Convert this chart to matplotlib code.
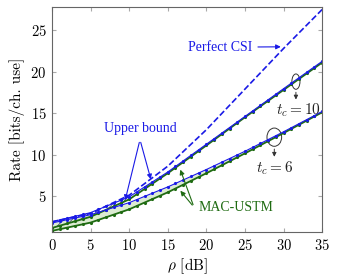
import matplotlib
matplotlib.use('Agg')
import matplotlib.pyplot as plt
from matplotlib.patches import Ellipse
import numpy as np

plt.rcParams['mathtext.fontset'] = 'cm'
plt.rcParams['font.family'] = ['cmr10', 'DejaVu Serif']
plt.rcParams['axes.formatter.use_mathtext'] = True
plt.rcParams['hatch.linewidth'] = 0.5

# SNR grid (dB)
rho = [0, 5, 10, 15, 20, 25, 30, 35]
perfect_csi = [1.9, 2.9, 5.1, 8.6, 13.0, 17.9, 22.8, 27.5]
ub_tc10 = [1.9, 3.0, 4.9, 7.9, 11.25, 14.6, 17.95, 21.25]
mac_tc10 = [1.15, 2.5, 4.6, 7.75, 11.1, 14.5, 17.8, 21.1]
ub_tc6 = [1.75, 2.75, 4.2, 6.1, 8.2, 10.4, 12.75, 15.2]
mac_tc6 = [0.8, 1.8, 3.4, 5.45, 7.75, 10.15, 12.6, 15.1]

blue = '#1a1ae6'
green = '#1f6b12'

x = np.arange(0, 36, 1)
def interp(v):
    return np.interp(x, rho, v)

fig = plt.figure(figsize=(3.42, 2.80), dpi=100)
ax = fig.add_axes([0.152, 0.171, 0.79, 0.804])

ax.fill_between(x, interp(ub_tc6), interp(mac_tc6), color='#dcebd2', lw=0)
ax.fill_between(x, interp(ub_tc10), interp(mac_tc10), facecolor='none',
                edgecolor='#333366', hatch='////', lw=0)

ax.plot(x, interp(perfect_csi), '--', color=blue, lw=1.2)
ax.plot(x, interp(mac_tc10), '-', color=green, lw=1.3, marker='.', ms=2.5)
ax.plot(x, interp(ub_tc10), '-', color=blue, lw=0.8, marker='.', ms=2.5)
ax.plot(x, interp(mac_tc6), '-', color=green, lw=1.3, marker='.', ms=2.5)
ax.plot(x, interp(ub_tc6), '-', color=blue, lw=0.8, marker='.', ms=2.5)

txt = dict(family=['Liberation Serif'], fontsize=10)
ax.annotate('Perfect CSI', xy=(30, 23.0), xytext=(21.8, 22.95), color=blue,
            ha='center', va='center', **txt,
            arrowprops=dict(arrowstyle='-|>', color=blue, lw=0.8, mutation_scale=7))
ax.text(11.4, 13.2, 'Upper bound', color=blue, ha='center', va='center', **txt)
for tip in [(12.9, 6.7), (9.4, 4.2)]:
    ax.annotate('', xy=tip, xytext=(11.4, 11.8),
                arrowprops=dict(arrowstyle='-|>', color=blue, lw=0.8, mutation_scale=7))
ax.text(19.0, 3.65, 'MAC-USTM', color=green, ha='left', va='center', **txt)
for tip in [(16.5, 8.5), (16.4, 5.9)]:
    ax.annotate('', xy=tip, xytext=(18.4, 3.65),
                arrowprops=dict(arrowstyle='-|>', color=green, lw=0.8, mutation_scale=7))

ax.add_patch(Ellipse((31.6, 18.8), 1.05, 1.85, fill=False, ec='#333333', lw=0.7))
ax.annotate('', xy=(31.6, 16.3), xytext=(31.6, 17.85),
            arrowprops=dict(arrowstyle='-|>', color='#333333', lw=0.7, mutation_scale=6))
ax.text(32.0, 15.4, r'$t_c = 10$', ha='center', va='center', fontsize=11, color='#222222')
ax.add_patch(Ellipse((28.8, 12.1), 1.9, 2.2, fill=False, ec='#333333', lw=0.7))
ax.annotate('', xy=(28.8, 9.4), xytext=(28.8, 11.0),
            arrowprops=dict(arrowstyle='-|>', color='#333333', lw=0.7, mutation_scale=6))
ax.text(28.8, 8.4, r'$t_c = 6$', ha='center', va='center', fontsize=11, color='#222222')

ax.set_xlim(0, 35)
ax.set_ylim(0.65, 27.8)
ax.set_xticks([0, 5, 10, 15, 20, 25, 30, 35])
ax.set_yticks([5, 10, 15, 20, 25])
ax.tick_params(direction='in', length=3, color='#aaaaaa', labelsize=10.5, pad=4,
               top=True, right=True)
for s in ax.spines.values():
    s.set_color('#666666')
    s.set_linewidth(0.8)
ax.set_xlabel(r'$\rho$ [dB]', fontsize=11, labelpad=3)
ax.set_ylabel('Rate [bits/ch. use]', fontsize=11, labelpad=4)

fig.savefig('out.png', dpi=100)
